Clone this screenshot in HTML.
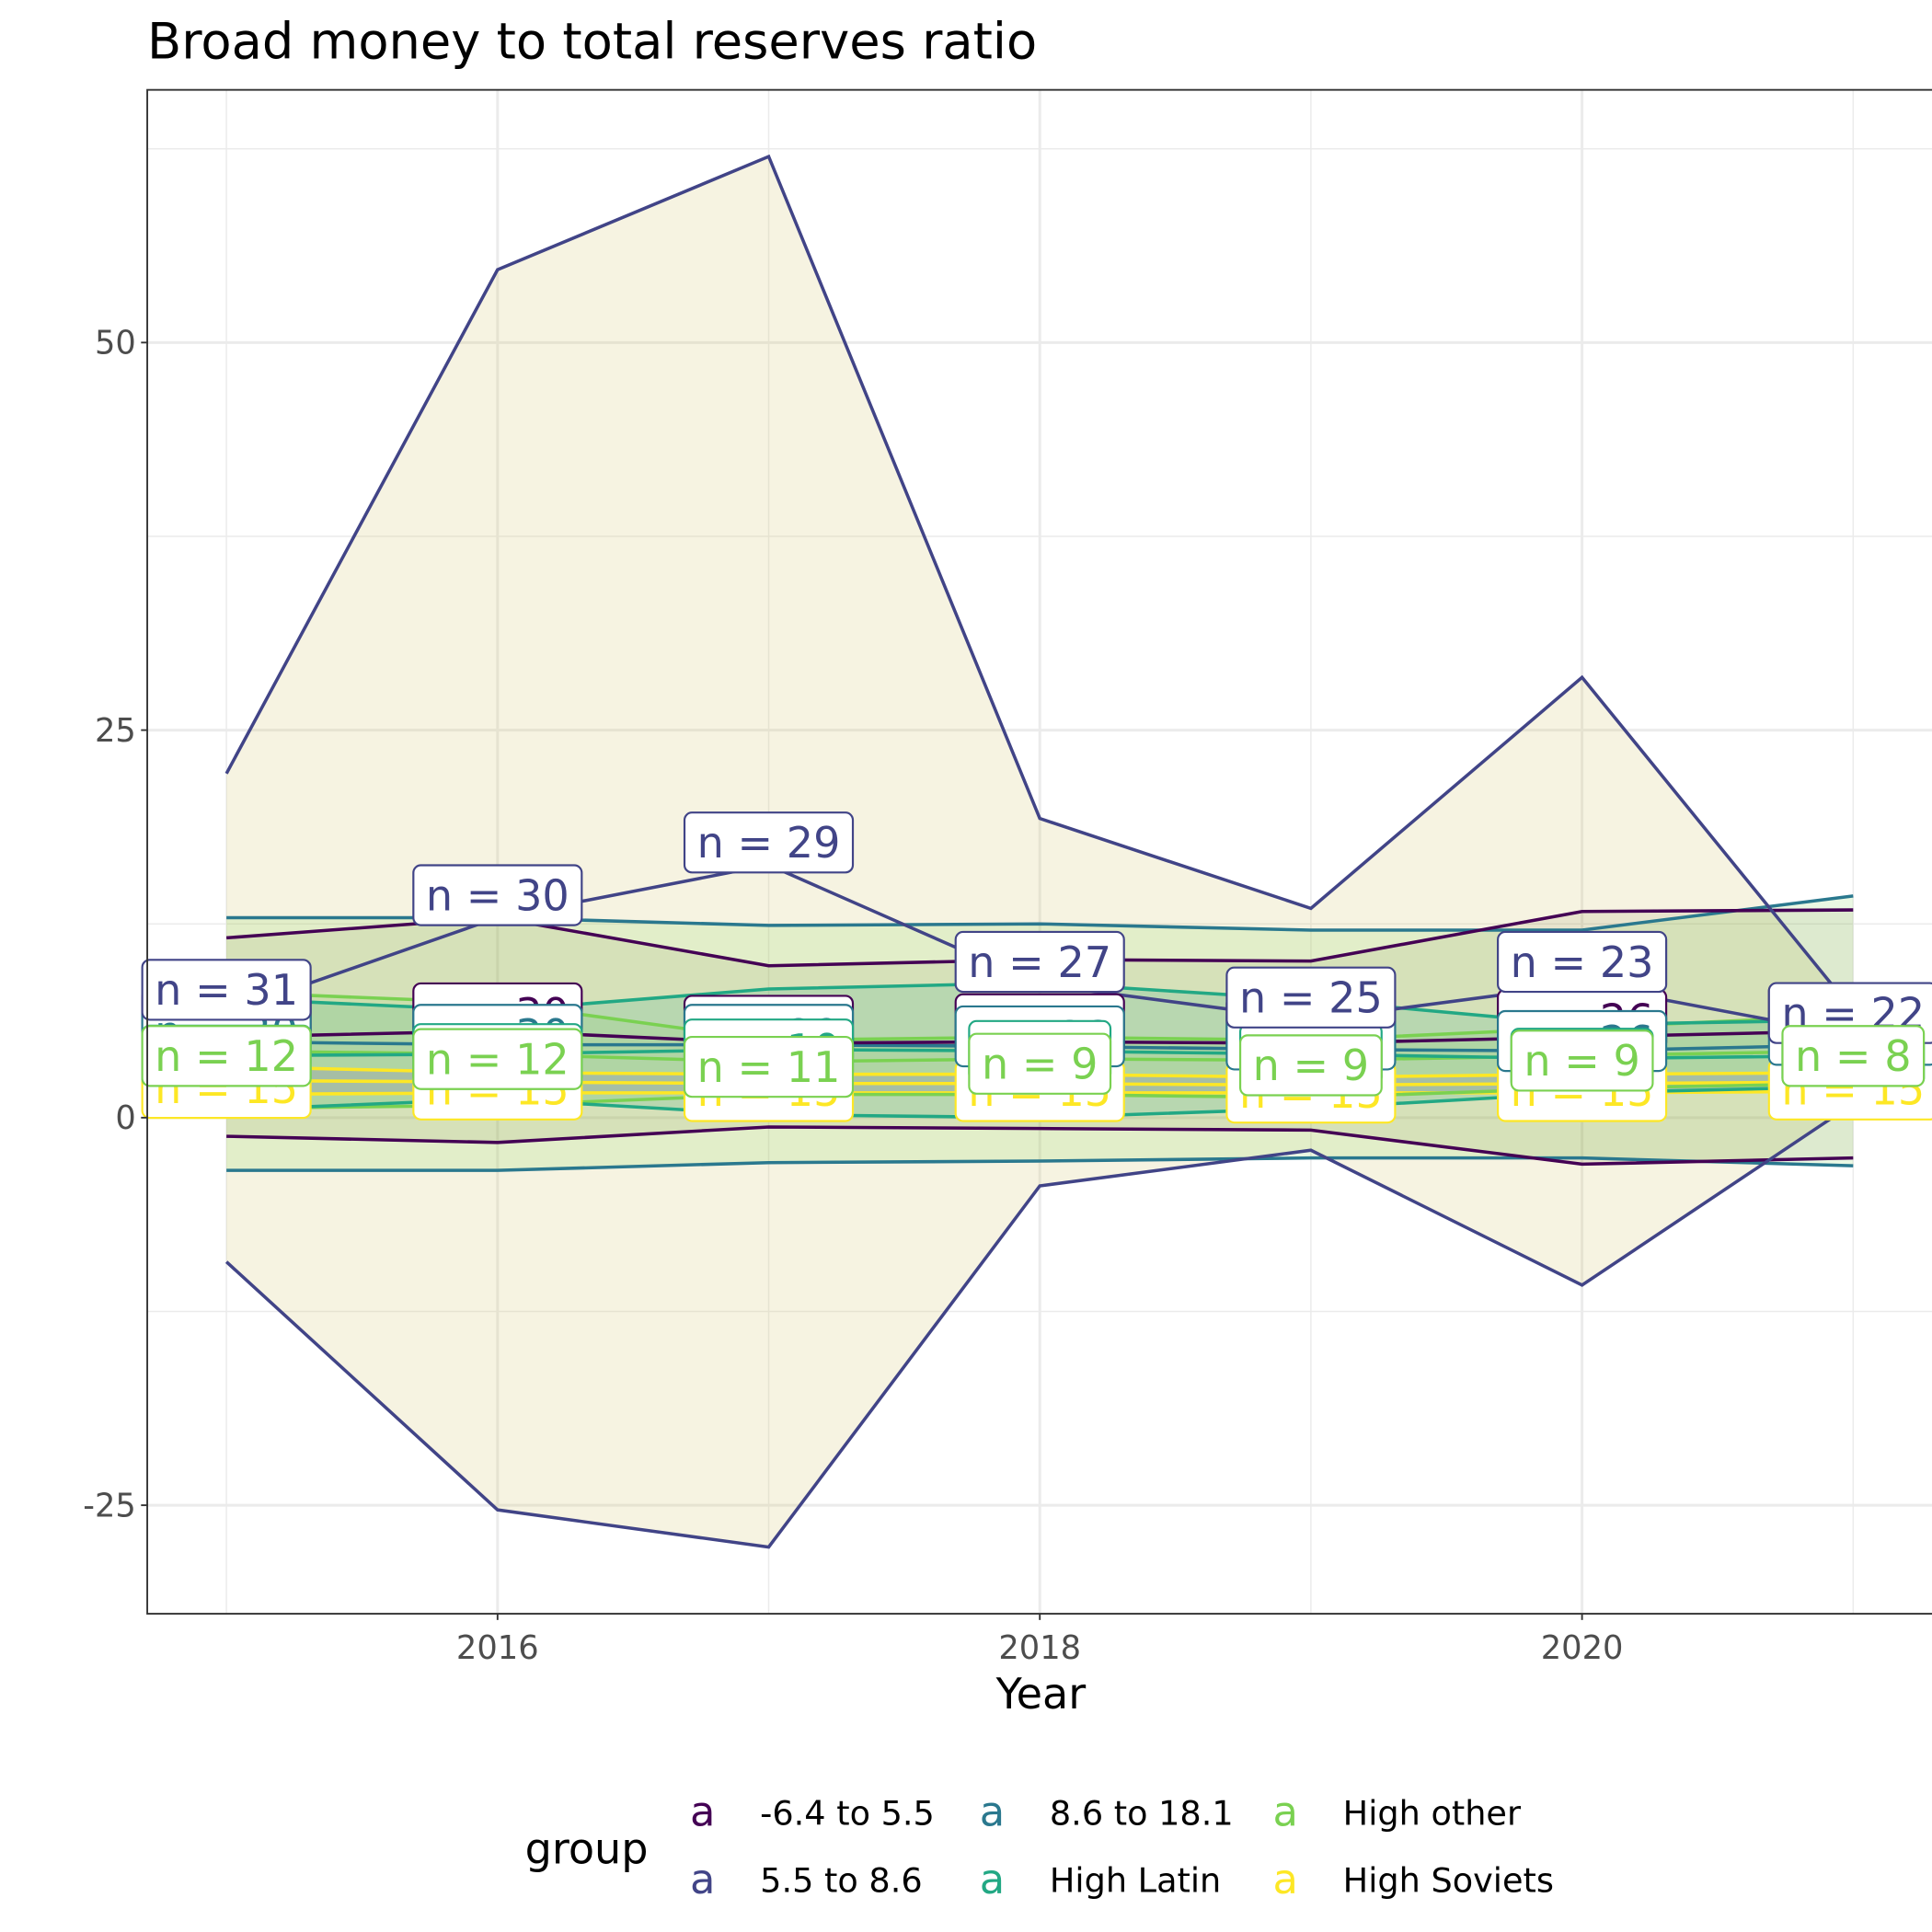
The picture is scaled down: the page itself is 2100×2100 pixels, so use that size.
<!DOCTYPE html>
<html><head><meta charset="utf-8"><style>
html,body{margin:0;padding:0;background:#fff}
svg{display:block}
text{font-family:"DejaVu Sans","Liberation Sans",sans-serif}
</style></head><body>
<svg id="chart" width="2100" height="2100" viewBox="0 0 1548 1548" xmlns="http://www.w3.org/2000/svg">
<rect x="0" y="0" width="1548" height="1548" fill="#fff"/>
<text x="118" y="47" font-size="40" fill="#000">Broad money to total reserves ratio</text>
<g id="grid"></g>
<g id="ribbons"></g>
<g id="lines"></g>
<g id="labels"></g>
<rect x="118" y="72" width="1432" height="1221" fill="none" stroke="#333" stroke-width="1.4"/>
<g id="axes"></g>
<text x="834" y="1369" font-size="34" text-anchor="middle" fill="#000">Year</text>
<g id="legend">
<text x="470" y="1493" font-size="34" text-anchor="middle" fill="#000">group</text>
</g>
</svg>
<script>
const years = [2015, 2016, 2017, 2018, 2019, 2020, 2021];
const groupNames = ["-6.4 to 5.5", "5.5 to 8.6", "8.6 to 18.1", "High Latin", "High other", "High Soviets"];
const colors = ["#440154", "#414487", "#2A788E", "#22A884", "#7AD151", "#FDE725"];
const ribbonFills = ["rgba(110,100,30,0.10)", "rgba(215,200,120,0.22)", "rgba(122,209,81,0.16)", "rgba(34,168,132,0.16)", "rgba(122,209,81,0.12)", "rgba(150,150,170,0.35)"];
const upperPurple = [11.6, 12.9, 9.8, 10.2, 10.1, 13.3, 13.4];
const meanPurple = [5.2, 5.6, 4.8, 4.9, 4.8, 5.2, 5.6];
const lowerPurple = [-1.2, -1.6, -0.6, -0.7, -0.8, -3.0, -2.6];
const upperNavy = [22.2, 54.7, 62.0, 19.3, 13.5, 28.4, 6.9];
const meanNavy = [6.8, 12.9, 16.3, 8.6, 6.3, 8.6, 5.3];
const lowerNavy = [-9.3, -25.3, -27.7, -4.4, -2.1, -10.8, 0.9];
const upperTeal = [12.9, 12.9, 12.4, 12.5, 12.1, 12.1, 14.3];
const meanTeal = [4.9, 4.7, 4.7, 4.6, 4.4, 4.3, 4.7];
const lowerTeal = [-3.4, -3.4, -2.9, -2.8, -2.6, -2.6, -3.1];
const upperLatin = [7.7, 6.9, 8.3, 8.7, 7.6, 6.0, 6.3];
const meanLatin = [4.0, 4.1, 4.4, 4.3, 4.1, 3.8, 4.0];
const lowerLatin = [0.5, 1.2, 0.2, 0.0, 0.6, 1.6, 2.0];
const upperOther = [8.1, 7.4, 5.0, 5.2, 5.0, 5.8, 6.6];
const meanOther = [4.3, 4.1, 3.6, 3.8, 3.7, 4.0, 4.3];
const lowerOther = [0.6, 0.8, 1.5, 1.5, 1.3, 1.9, 2.2];
const upperSoviet = [3.3, 2.9, 2.8, 2.8, 2.6, 2.8, 2.9];
const meanSoviet = [2.4, 2.3, 2.2, 2.2, 2.1, 2.2, 2.3];
const lowerSoviet = [1.5, 1.6, 1.6, 1.6, 1.6, 1.6, 1.7];
const nPurple = [30, 30, 29, 28, 27, 26, 25];
const nNavy = [31, 30, 29, 27, 25, 23, 22];
const nTeal = [30, 30, 29, 28, 27, 26, 22];
const nLatin = [10, 10, 10, 9, 9, 9, 9];
const nOther = [12, 12, 11, 9, 9, 9, 8];
const nSoviet = [15, 15, 15, 15, 15, 15, 15];
const yTicks = [50, 25, 0, -25];
const xTicks = [2016, 2018, 2020];

const uppers = [upperPurple, upperNavy, upperTeal, upperLatin, upperOther, upperSoviet];
const means = [meanPurple, meanNavy, meanTeal, meanLatin, meanOther, meanSoviet];
const lowers = [lowerPurple, lowerNavy, lowerTeal, lowerLatin, lowerOther, lowerSoviet];
const ns = [nPurple, nNavy, nTeal, nLatin, nOther, nSoviet];

const X0 = 118, X1 = 1550, Y0 = 72, Y1 = 1293;
const xMin = 2014.708, xMax = 2021.3, yMin = -32.0, yMax = 66.3;
const xs = v => X0 + (v - xMin) / (xMax - xMin) * (X1 - X0);
const ys = v => Y1 - (v - yMin) / (yMax - yMin) * (Y1 - Y0);
const NS = "http://www.w3.org/2000/svg";
function mk(tag, parent, attrs) {
  const e = document.createElementNS(NS, tag);
  for (const k in attrs) e.setAttribute(k, attrs[k]);
  parent.appendChild(e);
  return e;
}
const grid = document.getElementById('grid');
const bg = mk('rect', grid, {x: X0, y: Y0, width: X1 - X0, height: Y1 - Y0, fill: '#fff'});


for (let v = -37.5; v <= 70; v += 12.5) {
  if (v < yMin || v > yMax) continue;
  const major = yTicks.includes(v);
  const l = mk('line', grid, {x1: X0, x2: X1, y1: ys(v), y2: ys(v), stroke: '#ebebeb', 'stroke-width': major ? 2.2 : 1.1});
  
  
}
for (let v = 2015; v <= 2021; v++) {
  const major = xTicks.includes(v);
  const l = mk('line', grid, {x1: xs(v), x2: xs(v), y1: Y0, y2: Y1, stroke: '#ebebeb', 'stroke-width': major ? 2.2 : 1.1});
  
  
}
const rib = document.getElementById('ribbons');
const order = [1, 0, 2, 3, 4, 5];
order.forEach(g => {
  let d = years.map((yr, i) => (i ? 'L' : 'M') + xs(yr) + ',' + ys(uppers[g][i])).join(' ');
  for (let i = years.length - 1; i >= 0; i--) d += ' L' + xs(years[i]) + ',' + ys(lowers[g][i]);
  const p = mk('path', rib, {d: d + ' Z', fill: ribbonFills[g]});
  
  
});
const ln = document.getElementById('lines');
const pathOf = arr => years.map((yr, i) => (i ? 'L' : 'M') + xs(yr) + ',' + ys(arr[i])).join(' ');
[5, 4, 3, 2, 0, 1].forEach(g => {
  [uppers[g], lowers[g], means[g]].forEach((arr, k) => {
    const p = mk('path', ln, {d: pathOf(arr), fill: 'none', stroke: colors[g], 'stroke-width': 2.6});
    
    
  });
});
const lab = document.getElementById('labels');
const labelShift = [-14, -18, -8, 0, 4, 6];
[5, 0, 2, 3, 1, 4].forEach(g => {
  years.forEach((yr, i) => {
    const cx = xs(yr), cy = ys(means[g][i]) + labelShift[g];
    const gEl = mk('g', lab, {});
    
    
    const r = mk('rect', gEl, {x: cx - 65, y: cy - 24, width: 130, height: 48, rx: 6, fill: '#fff', stroke: colors[g], 'stroke-width': 1.6});
    const t = mk('text', gEl, {x: cx, y: cy + 12, 'font-size': 34, 'text-anchor': 'middle', fill: colors[g]});
    t.textContent = 'n = ' + ns[g][i];
    let w = 0;
    try { w = t.getComputedTextLength(); } catch (e) { w = 0; }
    if (w > 0) { r.setAttribute('x', cx - w / 2 - 10); r.setAttribute('width', w + 20); }
  });
});
const ax = document.getElementById('axes');
yTicks.forEach(v => {
  const l = mk('line', ax, {x1: X0 - 5, x2: X0, y1: ys(v), y2: ys(v), stroke: '#333', 'stroke-width': 1.4});
  
  
  const t = mk('text', ax, {x: X0 - 9, y: ys(v) + 9, 'font-size': 26, 'text-anchor': 'end', fill: '#4d4d4d'});
  
  
  t.textContent = v;
});
xTicks.forEach(v => {
  const l = mk('line', ax, {x1: xs(v), x2: xs(v), y1: Y1, y2: Y1 + 5, stroke: '#333', 'stroke-width': 1.4});
  
  
  const t = mk('text', ax, {x: xs(v), y: Y1 + 36, 'font-size': 26, 'text-anchor': 'middle', fill: '#4d4d4d'});
  
  
  t.textContent = v;
});
const leg = document.getElementById('legend');
const legX = [563, 563, 795, 795, 1030, 1030];
const legY = [1453, 1507, 1453, 1507, 1453, 1507];
groupNames.forEach((nm, g) => {
  const e = mk('g', leg, {});
  
  
  const k = mk('text', e, {x: legX[g], y: legY[g] + 10, 'font-size': 33, 'text-anchor': 'middle', fill: colors[g]});
  k.textContent = 'a';
  const t = mk('text', e, {x: legX[g] + 46, y: legY[g] + 9, 'font-size': 27, fill: '#000'});
  t.textContent = nm;
});
</script>
</body></html>
